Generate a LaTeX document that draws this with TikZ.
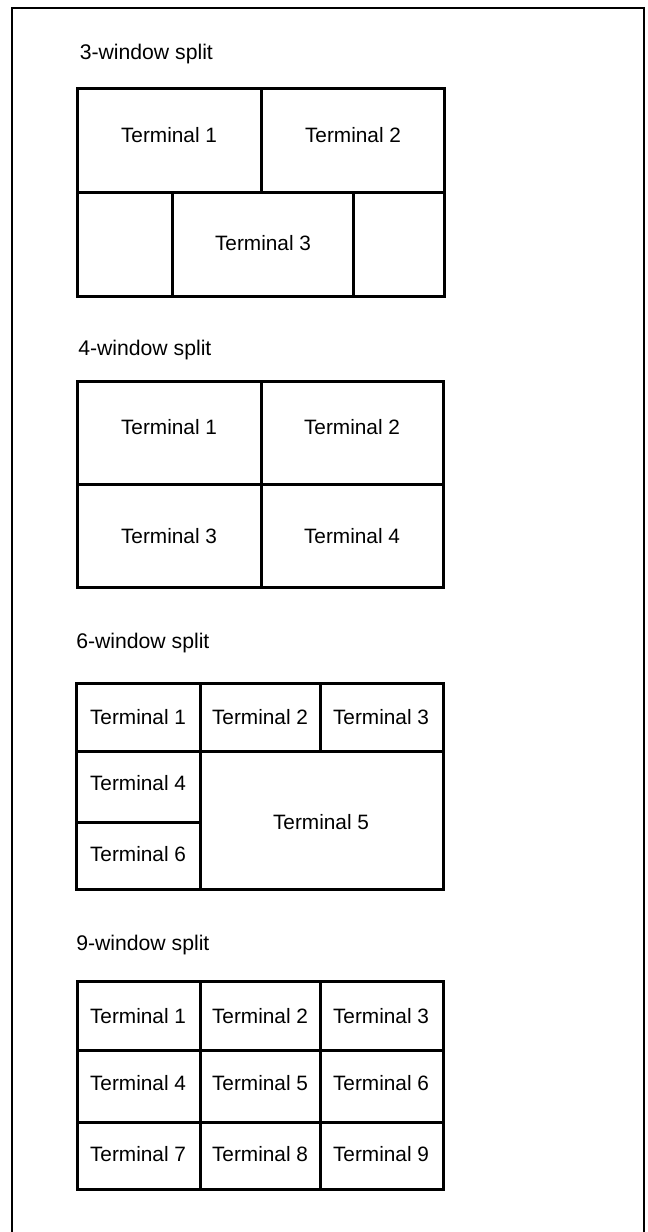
\documentclass[tikz,border=0pt]{standalone}
\usepackage{fontspec}
\setmainfont{Liberation Sans}

\begin{document}
\begin{tikzpicture}[x=0.75pt,y=-0.75pt,
  pane/.style={line width=2.25pt},
  frameline/.style={line width=1.5pt},
  term/.style={anchor=base,inner sep=0pt,font=\fontsize{15.6}{18}\selectfont},
  splittitle/.style={anchor=base west,inner sep=0pt,font=\fontsize{15.9}{18}\selectfont}]
  \useasboundingbox (0,0) rectangle (648,1232);
  \draw[frameline] (12,1232) -- (12,8) -- (644,8) -- (644,1232);

  % 3-window split
  \node[splittitle] (title3) at (79.5,59) {3-window split};
  \draw[pane] (77,88) rectangle (444,296);
  \draw[pane] (77,192) -- (444,192);
  \draw[pane] (261,88) -- (261,192);
  \draw[pane] (172,192) -- (172,296);
  \draw[pane] (353,192) -- (353,296);
  \node[term] (a1) at (169,142) {Terminal 1};
  \node[term] (a2) at (353,142) {Terminal 2};
  \node[term] (a3) at (263,250) {Terminal 3};

  % 4-window split
  \node[splittitle] (title4) at (78,355) {4-window split};
  \draw[pane] (77,381) rectangle (443,587);
  \draw[pane] (77,484) -- (443,484);
  \draw[pane] (261,381) -- (261,587);
  \node[term] (b1) at (169,434) {Terminal 1};
  \node[term] (b2) at (352,434) {Terminal 2};
  \node[term] (b3) at (169,543) {Terminal 3};
  \node[term] (b4) at (352,543) {Terminal 4};

  % 6-window split
  \node[splittitle] (title6) at (76,648) {6-window split};
  \draw[pane] (76,683) rectangle (443,889);
  \draw[pane] (76,751) -- (443,751);
  \draw[pane] (200,683) -- (200,889);
  \draw[pane] (320,683) -- (320,753);
  \draw[pane] (76,822) -- (200,822);
  \node[term] (c1) at (138,724) {Terminal 1};
  \node[term] (c2) at (260,724) {Terminal 2};
  \node[term] (c3) at (381,724) {Terminal 3};
  \node[term] (c4) at (138,790) {Terminal 4};
  \node[term] (c5) at (321,829) {Terminal 5};
  \node[term] (c6) at (138,861) {Terminal 6};

  % 9-window split
  \node[splittitle] (title9) at (76,950) {9-window split};
  \draw[pane] (77,981) rectangle (443,1189);
  \draw[pane] (77,1050) -- (443,1050);
  \draw[pane] (77,1122) -- (443,1122);
  \draw[pane] (200,981) -- (200,1191);
  \draw[pane] (320,981) -- (320,1191);
  \foreach \yb [count=\r from 0] in {1023,1090,1161}
    \foreach \xc [count=\c from 1] in {138,260,381}
      {\pgfmathtruncatemacro{\k}{3*\r+\c}
       \node[term] (d\k) at (\xc,\yb) {Terminal \k};}
\end{tikzpicture}
\end{document}
